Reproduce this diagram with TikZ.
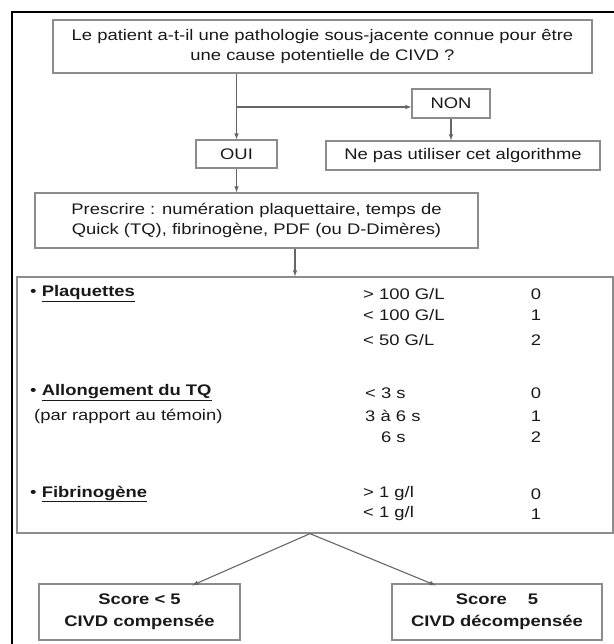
\documentclass[tikz,border=0pt]{standalone}
\usepackage{fontspec}
\setmainfont[FakeStretch=1.2]{Liberation Sans}
\usetikzlibrary{arrows, positioning, calc}

\newcommand{\txt}{\fontsize{15.4}{20}\selectfont}
\newcommand{\txtsc}{\fontsize{15.4}{22}\selectfont\bfseries}

\tikzset{
  boite/.style={draw=black!45, line width=1.3pt, text=black!90, font=\txt, align=center, inner sep=0pt},
  fleche/.style={draw=black!60, line width=1.1pt, -latex},
  ligne/.style={anchor=west, text=black!90, font=\txt, inner sep=0pt},
  note/.style={text=black!90, font=\txt, inner sep=0pt},
  cadre/.style={draw=black, line width=2.2pt},
}

\begin{document}
\begin{tikzpicture}[x=1bp, y=-1bp]
    \useasboundingbox (0,0) rectangle (614,644);
    \draw[cadre] (12,660) |- (630,12);

    % question et reponses
    \node[boite, minimum width=539bp, minimum height=53bp] (q) at (322.5,46.5) {Le patient a-t-il une pathologie sous-jacente connue pour être\\une cause potentielle de CIVD ?};
    \node[boite, minimum width=78bp, minimum height=29bp] (non) at (451,103.5) {NON};
    \node[boite, minimum width=81bp, minimum height=28bp] (oui) at (236.5,154) {OUI};
    \node[boite, minimum width=274bp, minimum height=29bp] (nepas) at (463,155.5) {Ne pas utiliser cet algorithme};
    \node[boite, minimum width=443bp, minimum height=55bp] (presc) at (256.5,220.5) {Prescrire : numération plaquettaire, temps de\\Quick (TQ), fibrinogène, PDF (ou D-Dimères)};

    % grille du score
    \node[boite, minimum width=596bp, minimum height=256bp] (grille) at (315,405) {};
    \node[ligne] (pl) at (30,294) {\textbullet\ \underline{\textbf{Plaquettes}}};
    \node[ligne] (pl1) at (363,294) {> 100 G/L};
    \node[ligne] (pl2) at (363,315) {< 100 G/L};
    \node[ligne] (pl3) at (363,340) {< 50 G/L};
    \node[note] (pls1) at (536,294) {0};
    \node[note] (pls2) at (536,315) {1};
    \node[note] (pls3) at (536,340) {2};

    \node[ligne] (tq) at (30,393) {\textbullet\ \underline{\textbf{Allongement du TQ}}};
    \node[ligne] (tqt) at (34,416) {(par rapport au témoin)};
    \node[ligne] (tq1) at (365,393) {< 3 s};
    \node[ligne] (tq2) at (365,416) {3 à 6 s};
    \node[ligne] (tq3) at (365,437) {\phantom{>} 6 s};
    \node[note] (tqs1) at (536,393) {0};
    \node[note] (tqs2) at (536,416) {1};
    \node[note] (tqs3) at (536,437) {2};

    \node[ligne] (fi) at (30,494) {\textbullet\ \underline{\textbf{Fibrinogène}}};
    \node[ligne] (fi1) at (363,494) {> 1 g/l};
    \node[ligne] (fi2) at (363,514) {< 1 g/l};
    \node[note] (fis1) at (536,494) {0};
    \node[note] (fis2) at (536,514) {1};

    % conclusions
    \node[boite, font=\txtsc, minimum width=201bp, minimum height=56bp] (sc1) at (139.5,612) {Score < 5\\CIVD compensée};
    \node[boite, font=\txtsc, minimum width=210bp, minimum height=56bp] (sc2) at (497,612) {Score \phantom{<} 5\\CIVD décompensée};

    \coordinate (b) at (oui |- 0,107);
    \coordinate (p1) at ($(presc.south)+(38.5,0)$);
    \coordinate (split) at ($(grille.south)+(-5,0)$);
    \coordinate (t1) at ($(sc1.north west)!0.76!(sc1.north east)+(0,2)$);
    \coordinate (t2) at ($(sc2.north west)!0.21!(sc2.north east)+(0,2)$);

    \draw[fleche] (q.south -| oui) -- (oui.north);
    \draw[fleche] (b) -- (b -| non.west);
    \draw[fleche] (non.south) -- (non |- nepas.north);
    \draw[fleche] (oui.south) -- (oui |- presc.north);
    \draw[fleche] (p1) -- (p1 |- grille.north);
    \draw[fleche] (split) -- (t1);
    \draw[fleche] (split) -- (t2);
\end{tikzpicture}
\end{document}
